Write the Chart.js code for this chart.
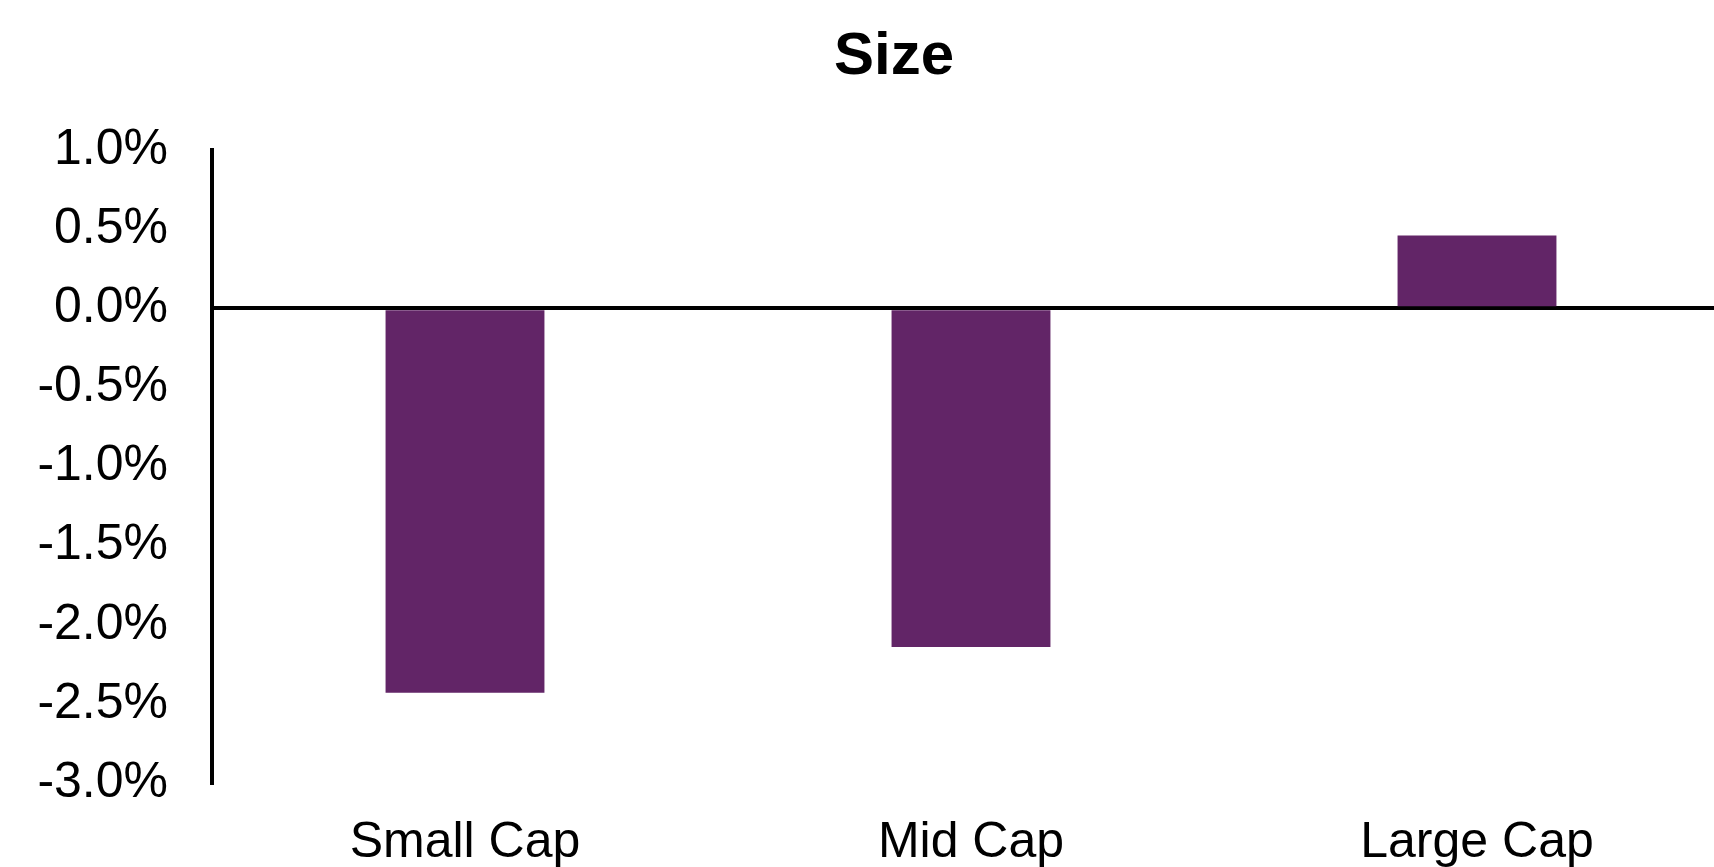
<!DOCTYPE html>
<html>
<head>
<meta charset="utf-8">
<script src="https://cdn.jsdelivr.net/npm/chart.js@4/dist/chart.umd.min.js"></script>
<style>
  html, body { margin: 0; padding: 0; background: #fff; overflow: hidden; }
  #wrap { position: relative; width: 1714px; height: 867px; overflow: hidden; }
  #title {
    position: absolute; top: 24px; left: 794px; width: 200px;
    text-align: center; font: bold 60px "Liberation Sans", Arial, sans-serif;
    line-height: 60px; color: #000;
  }
  canvas { position: absolute; left: 0; top: 0; }
</style>
</head>
<body>
<div id="wrap">
  <div id="title">Size</div>
  <canvas id="sizeChart" width="1730" height="867"></canvas>
</div>
<script>
const categories = ["Small Cap", "Mid Cap", "Large Cap"];
const returns = [-2.43, -2.14, 0.46];
const yMin = -3.0, yMax = 1.0, yStep = 0.5;

const font = { family: '"Liberation Sans", Arial, sans-serif', size: 50 };

new Chart(document.getElementById("sizeChart"), {
  type: "bar",
  data: {
    labels: categories,
    datasets: [{
      data: returns,
      backgroundColor: "#622567",
      barPercentage: 0.314,
      categoryPercentage: 1
    }]
  },
  options: {
    responsive: false,
    animation: false,
    layout: { padding: { top: 150, right: 0, left: 0, bottom: 0 } },
    plugins: { legend: { display: false }, tooltip: { enabled: false }, title: { display: false } },
    scales: {
      x: {
        grid: { display: false, drawTicks: false },
        border: { display: false },
        ticks: { color: "#000", font, padding: 30, maxRotation: 0 },
        afterFit: axis => { axis.height = 84; }
      },
      y: {
        min: yMin,
        max: yMax,
        ticks: {
          stepSize: yStep,
          color: "#000",
          font,
          padding: 44,
          callback: v => v.toFixed(1) + "%"
        },
        grid: {
          drawTicks: false,
          color: ctx => ctx.tick && ctx.tick.value === 0 ? "#000" : "rgba(0,0,0,0)",
          lineWidth: 4
        },
        border: { display: true, color: "#000", width: 4 },
        afterFit: axis => { axis.width = 212; }
      }
    }
  }
});
</script>
</body>
</html>
